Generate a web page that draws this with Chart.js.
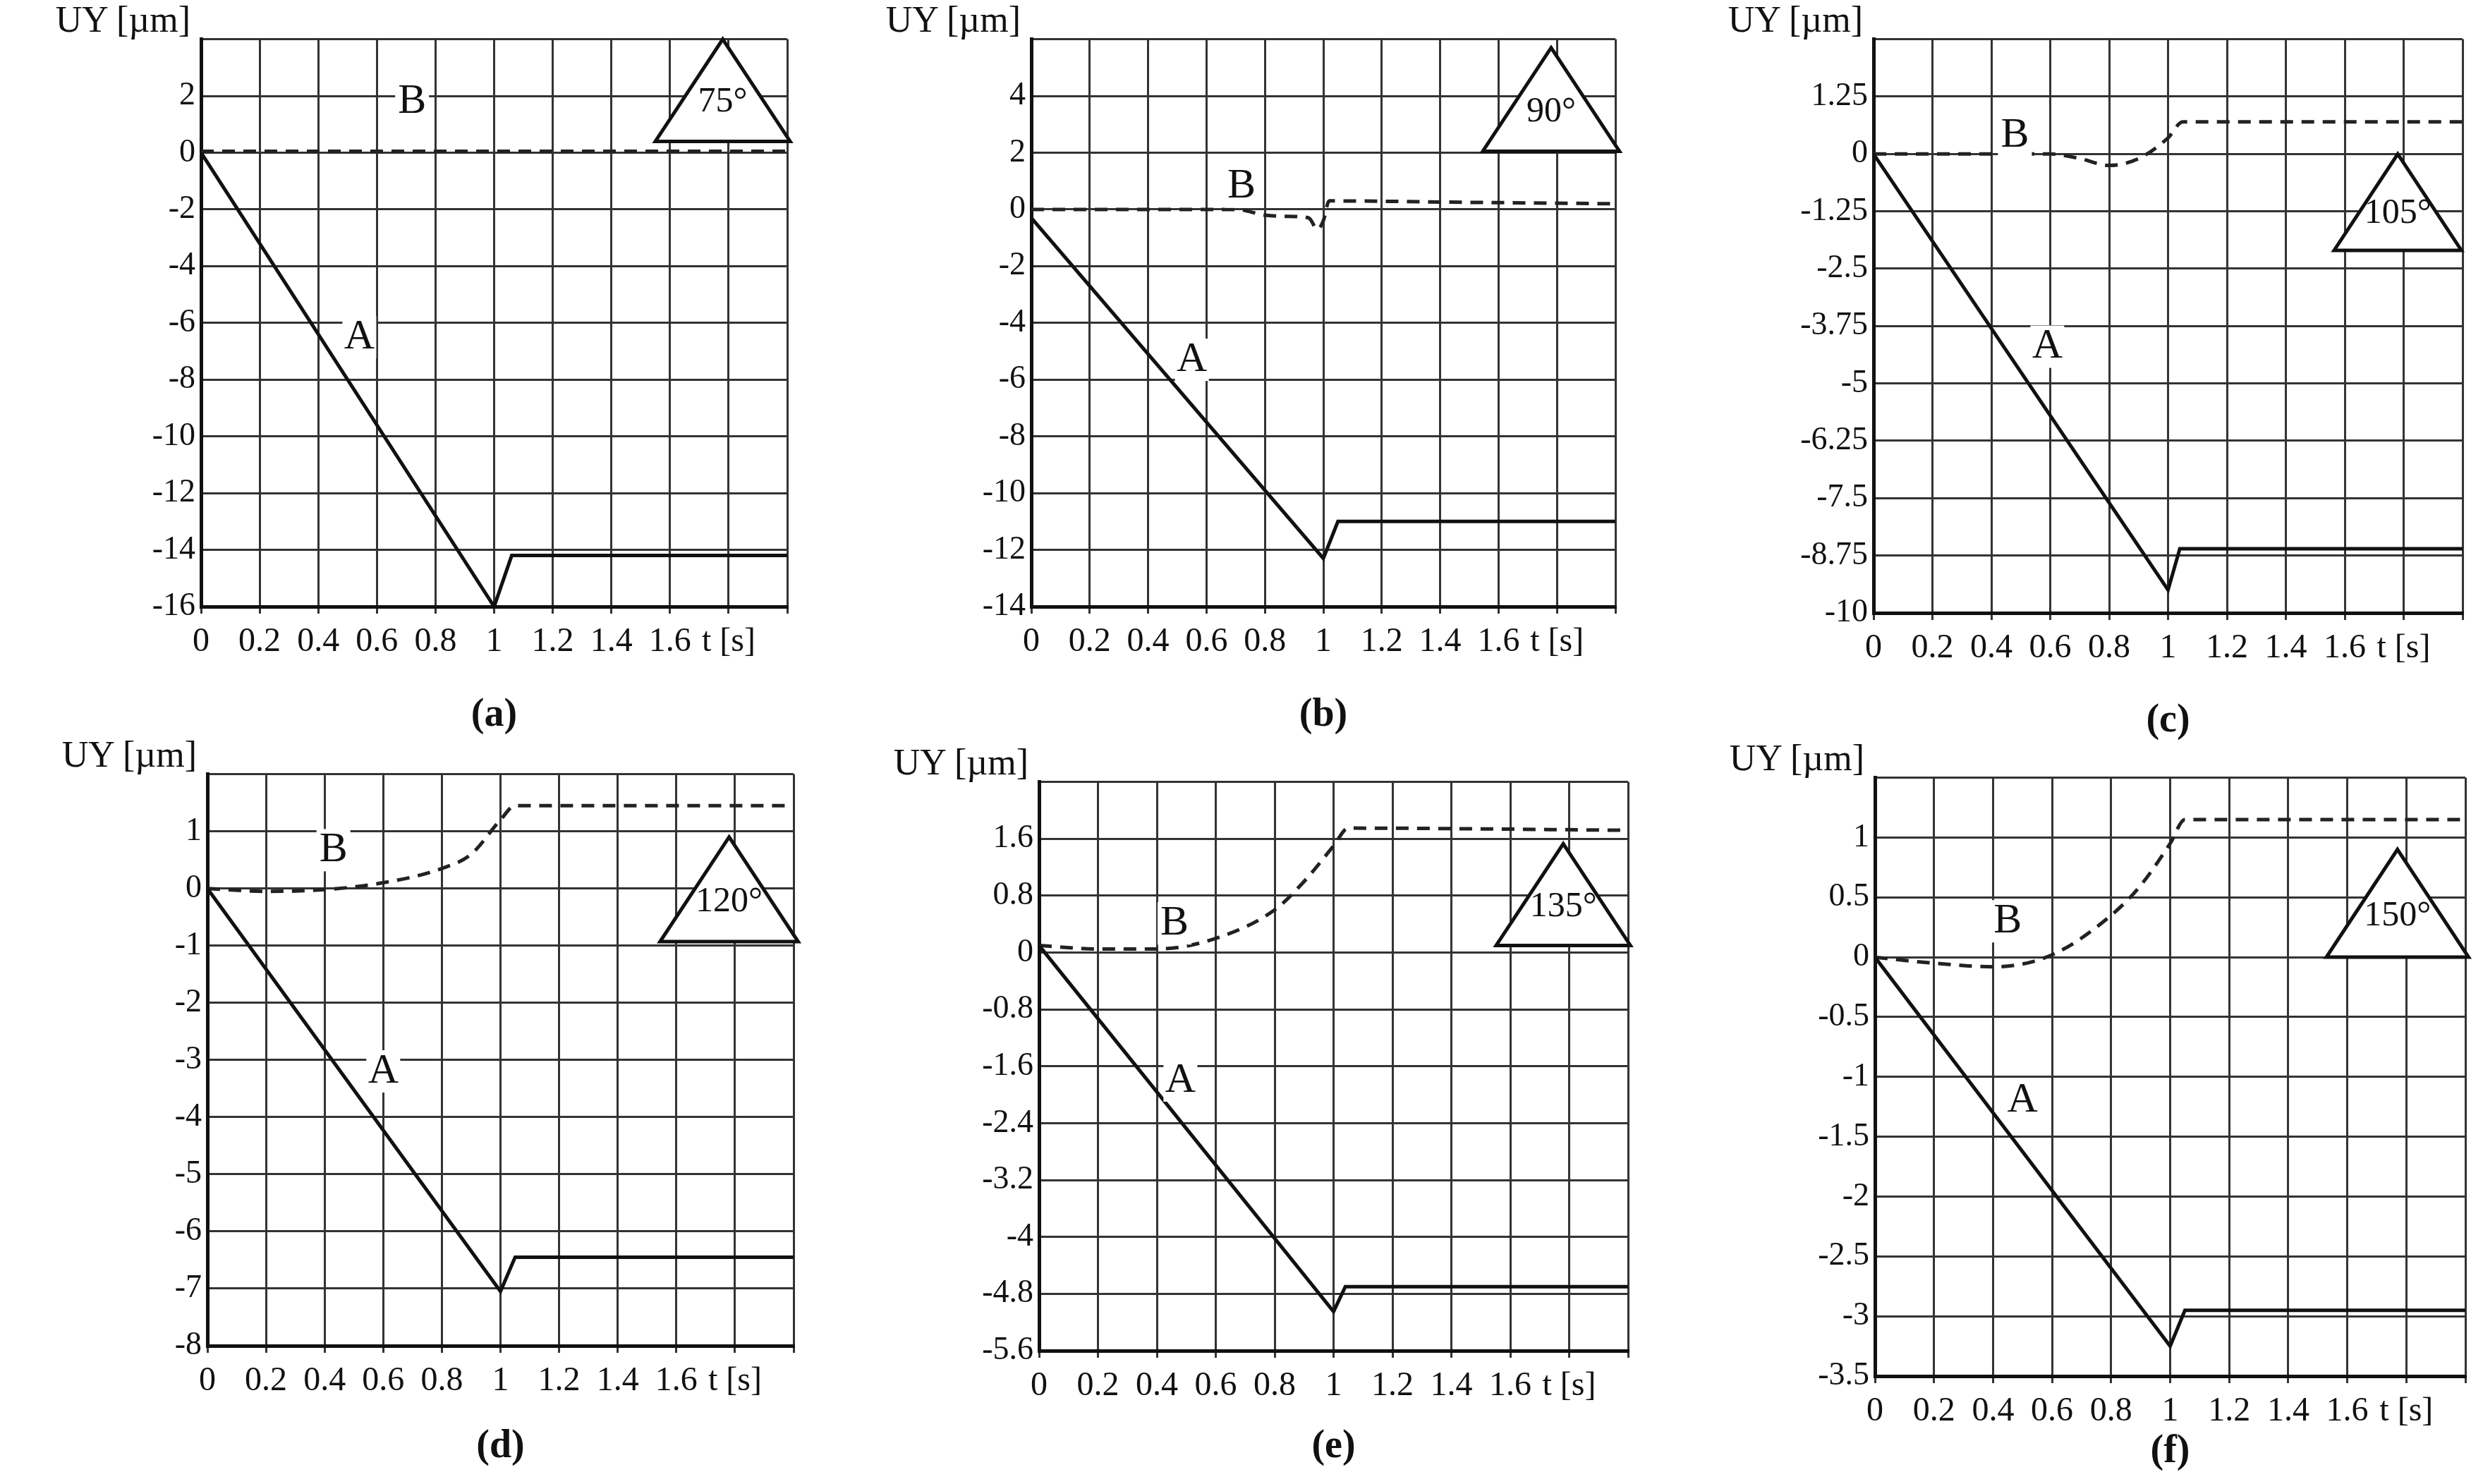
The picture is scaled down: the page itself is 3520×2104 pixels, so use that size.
<!DOCTYPE html>
<html>
<head>
<meta charset="utf-8">
<script src="https://cdn.jsdelivr.net/npm/chart.js@4"></script>
<style>
  body { margin: 0; background: #fff; width: 3520px; height: 2104px; position: relative; overflow: hidden; }
  .box { position: absolute; }
  .uy { position: absolute; font: 52px "Liberation Serif", serif; color: #111; white-space: nowrap; transform: translateX(-100%); }
  .cap { position: absolute; font: bold 56px "Liberation Serif", serif; color: #111; transform: translate(-50%, -50%); }
</style>
</head>
<body>
<script>
// panel data
const panelNames = ['(a)', '(b)', '(c)', '(d)', '(e)', '(f)'];
const angles = ['75°', '90°', '105°', '120°', '135°', '150°'];
const yMin = [-16, -14, -10, -8, -5.6, -3.5];
const yMax = [4, 6, 2.5, 2, 2.4, 1.5];
const yStep = [2, 2, 1.25, 1, 0.8, 0.5];

// curve A (solid) and B (dashed), [t, UY]
const curveA = [
  [[0, 0], [1, -16], [1.06, -14.2], [2, -14.2]],
  [[0, -0.3], [1, -12.3], [1.05, -11], [2, -11]],
  [[0, 0], [1, -9.5], [1.04, -8.6], [2, -8.6]],
  [[0, 0], [1, -7.05], [1.05, -6.45], [2, -6.45]],
  [[0, 0.1], [1, -5.05], [1.04, -4.7], [2, -4.7]],
  [[0, 0], [1, -3.25], [1.05, -2.95], [2, -2.95]]
];
const curveB = [
  [[0, 0.05], [1, 0.05], [2, 0.05]],
  [[0, 0], [0.7, 0], [0.8, -0.2], [0.9, -0.25], [0.95, -0.3], [0.98, -0.7], [1.0, -0.4], [1.02, 0.3], [1.5, 0.25], [2, 0.2]],
  [[0, 0], [0.4, 0], [0.6, 0], [0.7, -0.1], [0.8, -0.25], [0.9, -0.1], [1.0, 0.35], [1.05, 0.7], [2, 0.7]],
  [[0, 0], [0.2, -0.05], [0.4, -0.02], [0.6, 0.1], [0.8, 0.35], [0.9, 0.6], [1.0, 1.2], [1.05, 1.45], [2, 1.45]],
  [[0, 0.1], [0.2, 0.05], [0.4, 0.05], [0.6, 0.2], [0.8, 0.6], [0.9, 1.0], [1.0, 1.5], [1.05, 1.75], [2, 1.72]],
  [[0, 0], [0.2, -0.05], [0.4, -0.08], [0.6, 0.02], [0.8, 0.35], [0.9, 0.6], [1.0, 0.95], [1.05, 1.15], [2, 1.15]]
];
// label positions [t, UY]
const labelA = [[0.54, -6.5], [0.55, -5.3], [0.59, -4.2], [0.6, -3.2], [0.48, -1.8], [0.5, -1.2]];
const labelB = [[0.72, 1.8], [0.72, 0.8], [0.48, 0.4], [0.43, 0.67], [0.46, 0.41], [0.45, 0.3]];
// triangle: apex t, apex UY, base UY
const triApex = [[1.78, 4], [1.78, 5.7], [1.78, 0], [1.78, 0.9], [1.78, 1.53], [1.77, 0.9]];
const triBase = [0.4, 2.05, -2.1, -0.93, 0.1, 0];

// plot rectangles in page pixels: left, right, top, bottom
const plots = [
  [285, 1116, 40, 860], [1462, 2290, 40, 860], [2656, 3491, 40, 869],
  [294, 1125, 1082, 1908], [1473, 2308, 1093, 1915], [2658, 3495, 1087, 1951]
];
const capY = [1010, 1010, 1018, 2047, 2047, 2054];

const YW = 160, XH = 90, PT = 20, PR = 40;
const FONT = 'Liberation Serif';

const annot = {
  id: 'annot',
  afterDraw(chart) {
    const i = chart.options.plugins.annot.idx;
    const ctx = chart.ctx, x = chart.scales.x, y = chart.scales.y;
    ctx.save();
    // triangle
    const ax = x.getPixelForValue(triApex[i][0]), ay = y.getPixelForValue(triApex[i][1]);
    const by = y.getPixelForValue(triBase[i]);
    const half = (by - ay) * 0.66;
    ctx.beginPath();
    ctx.moveTo(ax, ay); ctx.lineTo(ax + half, by); ctx.lineTo(ax - half, by); ctx.closePath();
    ctx.fillStyle = '#fff'; ctx.fill();
    ctx.strokeStyle = '#111'; ctx.lineWidth = 5; ctx.stroke();
    ctx.fillStyle = '#111';
    ctx.font = '50px "' + FONT + '"';
    ctx.textAlign = 'center'; ctx.textBaseline = 'middle';
    ctx.fillText(angles[i], ax, ay + (by - ay) * 0.62);
    // A and B labels
    ctx.font = '60px "' + FONT + '"';
    [['A', labelA[i]], ['B', labelB[i]]].forEach(([t, p]) => {
      const px = x.getPixelForValue(p[0]), py = y.getPixelForValue(p[1]);
      ctx.fillStyle = '#fff'; ctx.fillRect(px - 24, py - 30, 48, 60);
      ctx.fillStyle = '#111'; ctx.fillText(t, px, py);
    });
    ctx.restore();
  }
};

function fmt(v) { return String(Number(v.toFixed(2))); }

plots.forEach((r, i) => {
  const [l, rt, t, b] = r;
  const div = document.createElement('div');
  div.className = 'box';
  const w = rt - l + YW + PR, h = b - t + PT + XH;
  div.style.left = (l - YW) + 'px'; div.style.top = (t - PT) + 'px';
  div.style.width = w + 'px'; div.style.height = h + 'px';
  const cv = document.createElement('canvas');
  div.appendChild(cv);
  document.body.appendChild(div);

  const uy = document.createElement('div');
  uy.className = 'uy'; uy.textContent = 'UY [µm]';
  uy.style.left = (l - 15) + 'px'; uy.style.top = (t - 42) + 'px';
  document.body.appendChild(uy);
  const cap = document.createElement('div');
  cap.className = 'cap'; cap.textContent = panelNames[i];
  cap.style.left = ((l + rt) / 2) + 'px'; cap.style.top = capY[i] + 'px';
  document.body.appendChild(cap);

  new Chart(cv, {
    type: 'scatter',
    data: {
      datasets: [
        { data: curveA[i].map(p => ({ x: p[0], y: p[1] })), showLine: true, borderColor: '#111', borderWidth: 5, pointRadius: 0 },
        { data: curveB[i].map(p => ({ x: p[0], y: p[1] })), showLine: true, borderColor: '#222', borderWidth: 5, borderDash: [18, 12], pointRadius: 0, cubicInterpolationMode: 'monotone' }
      ]
    },
    options: {
      responsive: true, maintainAspectRatio: false, animation: false,
      layout: { padding: { top: PT, right: PR, left: 0, bottom: 0 } },
      plugins: { legend: { display: false }, tooltip: { enabled: false }, annot: { idx: i } },
      scales: {
        x: {
          type: 'linear', min: 0, max: 2,
          afterFit(s) { s.height = XH; },
          ticks: { stepSize: 0.2, color: '#111', font: { family: FONT, size: 48 }, maxRotation: 0, autoSkip: false, padding: 12,
            callback(v) { if (Math.abs(v - 2) < 1e-6) return ''; if (Math.abs(v - 1.8) < 1e-6) return 't [s]'; return fmt(v); } },
          grid: { color: '#333', lineWidth: 3, drawTicks: true, tickLength: 10 },
          border: { color: '#111', width: 5 }
        },
        y: {
          type: 'linear', min: yMin[i], max: yMax[i],
          afterFit(s) { s.width = YW; },
          ticks: { stepSize: yStep[i], color: '#111', font: { family: FONT, size: 46 }, autoSkip: false, padding: 8,
            callback(v) { return Math.abs(v - yMax[i]) < 1e-6 ? '' : fmt(v); } },
          grid: { color: '#333', lineWidth: 3, drawTicks: false },
          border: { color: '#111', width: 5 }
        }
      }
    },
    plugins: [annot]
  });
});
</script>
</body>
</html>
